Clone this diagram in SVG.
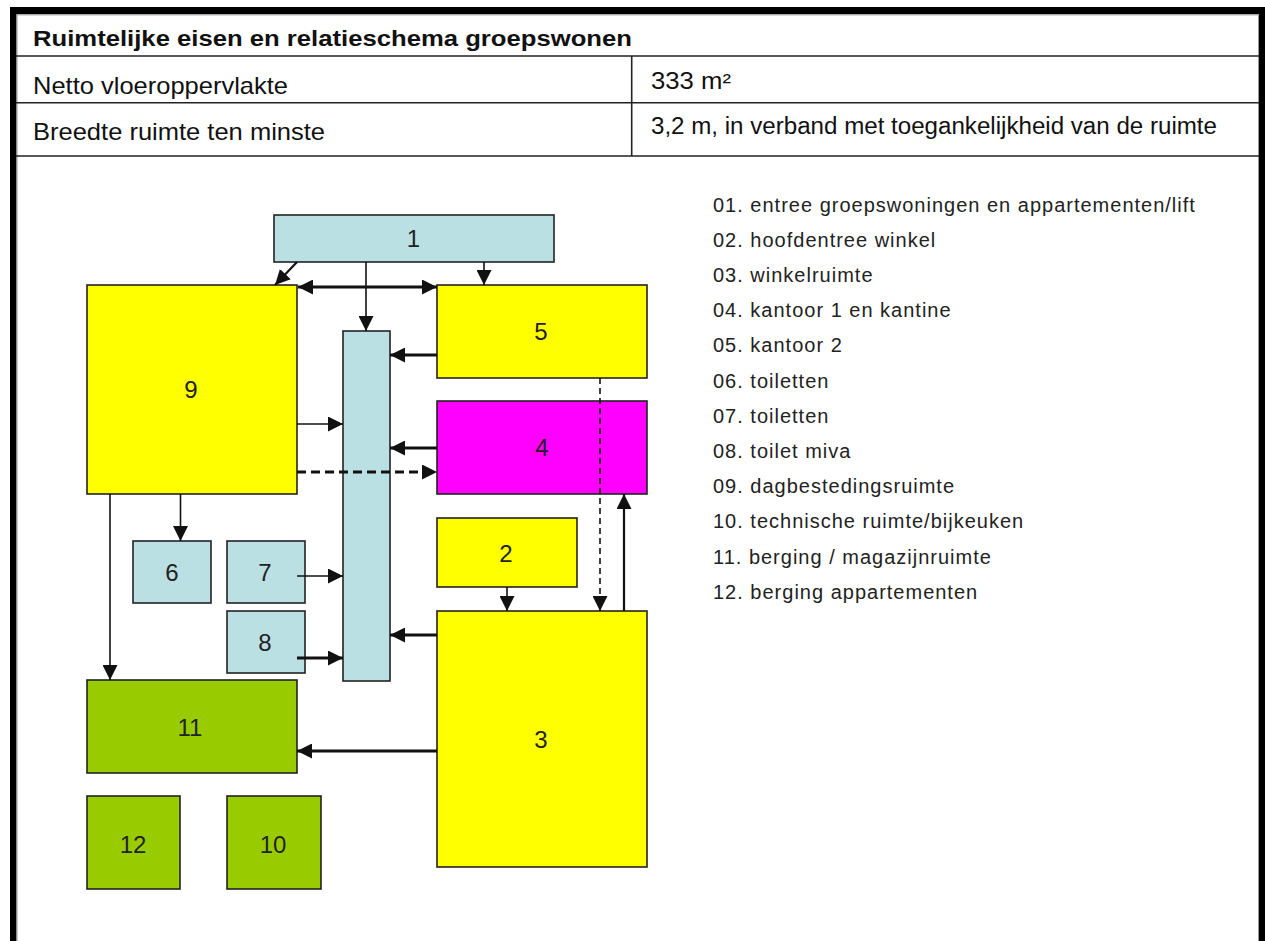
<svg xmlns="http://www.w3.org/2000/svg" width="1265" height="941" viewBox="0 0 1265 941">
  <style>
    .frame { fill: #000; }
    .rule { stroke: #222; stroke-width: 1.6; fill: none; }
    .hdr { font-family: "Liberation Sans", Arial, sans-serif; fill: #111; }
    .title { font-weight: bold; font-size: 22px; }
    .cellL { font-size: 24px; }
    .cellR { font-size: 23px; }
    .box { stroke: #222; stroke-width: 1.6; }
    .blue { fill: #BBE0E3; }
    .yellow { fill: #FFFF00; }
    .magenta { fill: #FF00FF; }
    .green { fill: #99CC00; }
    .lbl { font-family: "Liberation Sans", Arial, sans-serif; font-size: 24px; fill: #222; text-anchor: middle; }
    .c { fill: none; stroke: #111; }
    .thin { stroke-width: 1.6; }
    .mid { stroke-width: 2.2; }
    .thick { stroke-width: 3; }
    .dashThick { stroke-dasharray: 9 5; }
    .dashThin { stroke-dasharray: 6 4; }
    .legend { font-family: "Liberation Sans", Arial, sans-serif; font-size: 20px; fill: #222; letter-spacing: 1px; }
  </style>
  <defs>
    <marker id="ah" markerUnits="userSpaceOnUse" markerWidth="15" markerHeight="15" refX="15" refY="7.5" orient="auto-start-reverse" viewBox="0 0 15 15">
      <path d="M0,0 L15,7.5 L0,15 z" fill="#111"/>
    </marker>
  </defs>

  <rect width="1265" height="941" fill="#fff"/>

  <!-- outer frame -->
  <g id="frame">
    <rect class="frame" x="10" y="7" width="1255" height="7"/>
    <rect class="frame" x="10" y="7" width="6.5" height="934"/>
    <rect class="frame" x="1259" y="7" width="6" height="934"/>
    <line x1="16.5" y1="14.8" x2="1259" y2="14.8" stroke="#888" stroke-width="1"/>
    <line x1="17" y1="15" x2="17" y2="941" stroke="#999" stroke-width="1"/>
    <line x1="1258.5" y1="15" x2="1258.5" y2="941" stroke="#999" stroke-width="1"/>
  </g>

  <!-- header table -->
  <g id="table">
    <line class="rule" x1="16" y1="56" x2="1259" y2="56"/>
    <line class="rule" x1="16" y1="102.7" x2="1259" y2="102.7"/>
    <line class="rule" x1="16" y1="156" x2="1259" y2="156"/>
    <line class="rule" x1="631.7" y1="56" x2="631.7" y2="156"/>
    <text class="hdr title" x="33" y="46" textLength="599" lengthAdjust="spacingAndGlyphs">Ruimtelijke eisen en relatieschema groepswonen</text>
    <text class="hdr cellL" x="33" y="94" textLength="255" lengthAdjust="spacingAndGlyphs">Netto vloeroppervlakte</text>
    <text class="hdr cellL" x="33" y="140" textLength="292" lengthAdjust="spacingAndGlyphs">Breedte ruimte ten minste</text>
    <text class="hdr cellR" x="651" y="89" textLength="80" lengthAdjust="spacingAndGlyphs">333 m²</text>
    <text class="hdr cellR" x="651" y="134" textLength="566" lengthAdjust="spacingAndGlyphs">3,2 m, in verband met toegankelijkheid van de ruimte</text>
  </g>

  <!-- nodes -->
  <g id="node-1"><rect class="box blue" x="274" y="215" width="280" height="47"/><text class="lbl" x="413.5" y="247">1</text></g>
  <g id="node-9"><rect class="box yellow" x="87" y="285" width="210" height="209"/><text class="lbl" x="191" y="398">9</text></g>
  <g id="node-5"><rect class="box yellow" x="437" y="285" width="210" height="93"/><text class="lbl" x="541" y="340">5</text></g>
  <g id="node-bar"><rect class="box blue" x="343" y="331" width="47" height="350"/></g>
  <g id="node-4"><rect class="box magenta" x="437" y="401" width="210" height="93"/><text class="lbl" x="542" y="456">4</text></g>
  <g id="node-2"><rect class="box yellow" x="437" y="518" width="140" height="69"/><text class="lbl" x="506" y="562">2</text></g>
  <g id="node-3"><rect class="box yellow" x="437" y="611" width="210" height="256"/><text class="lbl" x="541" y="748">3</text></g>
  <g id="node-6"><rect class="box blue" x="133" y="541" width="78" height="62"/><text class="lbl" x="172" y="581">6</text></g>
  <g id="node-7"><rect class="box blue" x="227" y="541" width="78" height="62"/><text class="lbl" x="265" y="581">7</text></g>
  <g id="node-8"><rect class="box blue" x="227" y="611" width="78" height="62"/><text class="lbl" x="265" y="651">8</text></g>
  <g id="node-11"><rect class="box green" x="87" y="680" width="210" height="93"/><text class="lbl" x="190" y="736">11</text></g>
  <g id="node-12"><rect class="box green" x="87" y="796" width="93" height="93"/><text class="lbl" x="133" y="853">12</text></g>
  <g id="node-10"><rect class="box green" x="227" y="796" width="94" height="93"/><text class="lbl" x="273" y="853">10</text></g>

  <!-- connectors -->
  <g id="connectors">
    <line class="c mid" x1="297" y1="262" x2="275" y2="285" marker-end="url(#ah)"/>
    <line class="c thin" x1="366" y1="262" x2="366" y2="331" marker-end="url(#ah)"/>
    <line class="c thin" x1="484" y1="262" x2="484" y2="285" marker-end="url(#ah)"/>
    <line class="c thick" x1="298" y1="287" x2="437" y2="287" marker-start="url(#ah)" marker-end="url(#ah)"/>
    <line class="c thick" x1="437" y1="355" x2="390" y2="355" marker-end="url(#ah)"/>
    <line class="c thin" x1="297" y1="424" x2="343" y2="424" marker-end="url(#ah)"/>
    <line class="c thick" x1="437" y1="448" x2="390" y2="448" marker-end="url(#ah)"/>
    <line class="c thick dashThick" x1="297" y1="472" x2="437" y2="472" marker-end="url(#ah)"/>
    <line class="c thin dashThin" x1="600" y1="378" x2="600" y2="611" marker-end="url(#ah)"/>
    <line class="c mid" x1="624" y1="611" x2="624" y2="494" marker-end="url(#ah)"/>
    <line class="c thin" x1="110" y1="494" x2="110" y2="680" marker-end="url(#ah)"/>
    <line class="c thin" x1="180.5" y1="494" x2="180.5" y2="541" marker-end="url(#ah)"/>
    <line class="c thin" x1="297" y1="576" x2="343" y2="576" marker-end="url(#ah)"/>
    <line class="c thick" x1="297" y1="658" x2="343" y2="658" marker-end="url(#ah)"/>
    <line class="c thin" x1="507" y1="587" x2="507" y2="611" marker-end="url(#ah)"/>
    <line class="c thick" x1="437" y1="635" x2="390" y2="635" marker-end="url(#ah)"/>
    <line class="c thick" x1="437" y1="751" x2="297" y2="751" marker-end="url(#ah)"/>
  </g>

  <!-- legend -->
  <g id="legend">
    <text class="legend" x="713" y="212">01. entree groepswoningen en appartementen/lift</text>
    <text class="legend" x="713" y="247">02. hoofdentree winkel</text>
    <text class="legend" x="713" y="282">03. winkelruimte</text>
    <text class="legend" x="713" y="317">04. kantoor 1 en kantine</text>
    <text class="legend" x="713" y="352">05. kantoor 2</text>
    <text class="legend" x="713" y="388">06. toiletten</text>
    <text class="legend" x="713" y="423">07. toiletten</text>
    <text class="legend" x="713" y="458">08. toilet miva</text>
    <text class="legend" x="713" y="493">09. dagbestedingsruimte</text>
    <text class="legend" x="713" y="528">10. technische ruimte/bijkeuken</text>
    <text class="legend" x="713" y="564">11. berging / magazijnruimte</text>
    <text class="legend" x="713" y="599">12. berging appartementen</text>
  </g>
</svg>
